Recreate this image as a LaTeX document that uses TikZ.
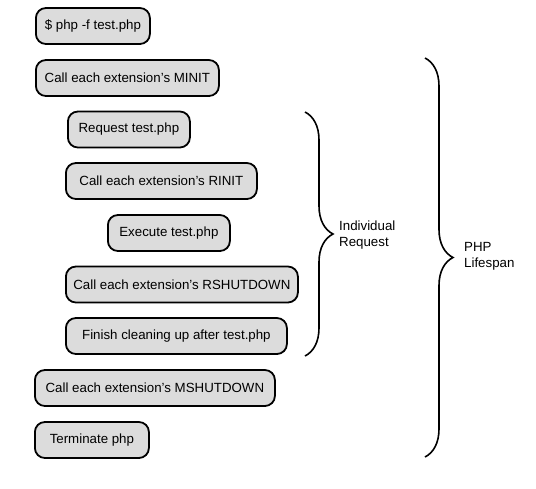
\documentclass[tikz,border=0pt]{standalone}
\usepackage{fontspec}
\setmainfont{Liberation Sans}
\usetikzlibrary{decorations.pathreplacing}
\definecolor{boxfill}{HTML}{DCDCDC}
\begin{document}
\begin{tikzpicture}[x=1pt,y=-1pt,
  stepbox/.style={draw=black,line width=1.8pt,fill=boxfill,rounded corners=10pt,
    minimum height=36pt,inner sep=0pt,anchor=west,font=\fontsize{13.3}{15}\selectfont},
  bracepath/.style={draw=black,line width=1.6pt,decorate,decoration={brace,amplitude=28pt}},
  lbl/.style={anchor=west,align=left,inner sep=0pt,font=\fontsize{13.3}{16}\selectfont}]
\useasboundingbox (0,0) rectangle (536,488);
\node[stepbox,minimum width=114pt] (b1) at (35,26) {\$ php -f test.php};
\node[stepbox,minimum width=183pt] (b2) at (35,78) {Call each extension’s MINIT};
\node[stepbox,minimum width=122pt] (b3) at (67,129.5) {Request test.php};
\node[stepbox,minimum width=191pt] (b4) at (65,181) {Call each extension’s RINIT};
\node[stepbox,minimum width=122pt] (b5) at (107,233) {Execute test.php};
\node[stepbox,minimum width=232pt] (b6) at (65,284.5) {Call each extension’s RSHUTDOWN};
\node[stepbox,minimum width=221pt] (b7) at (65,336) {Finish cleaning up after test.php};
\node[stepbox,minimum width=240pt] (b8) at (34,388) {Call each extension’s MSHUTDOWN};
\node[stepbox,minimum width=114pt] (b9) at (34,440) {Terminate php};
% individual request brace
\coordinate (r1) at (305,112);
\coordinate (r2) at (305,356);
\draw[bracepath] (r1) -- (r2);
\node[lbl] (rl) at (339,235) {Individual\\Request};
% lifespan brace
\coordinate (l1) at (425,58);
\coordinate (l2) at (425,457);
\draw[bracepath] (l1) -- (l2);
\node[lbl] (ll) at (464,256) {PHP\\Lifespan};
\end{tikzpicture}
\end{document}
